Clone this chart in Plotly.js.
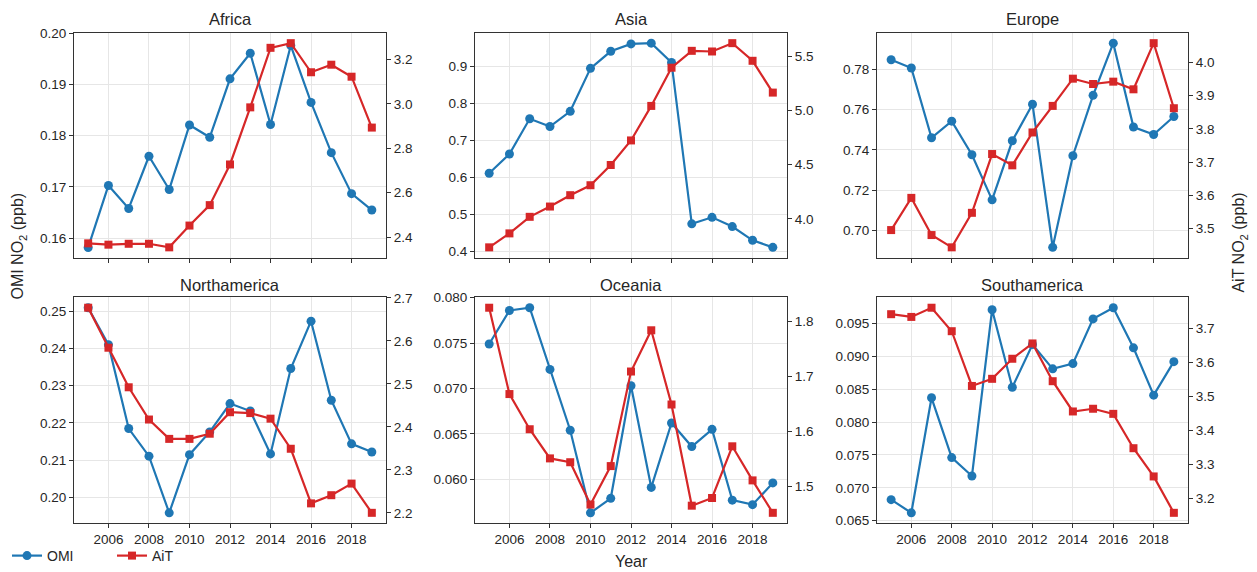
<!DOCTYPE html>
<html>
<head>
<meta charset="utf-8">
<script src="https://cdn.plot.ly/plotly-3.0.1.min.js"></script>
<style>
html,body{margin:0;padding:0;background:#fff;}
#chart{width:1257px;height:572px;}
</style>
</head>
<body>
<div id="chart"></div>
<script>
// ---------------- DATA ----------------
const years = [2005,2006,2007,2008,2009,2010,2011,2012,2013,2014,2015,2016,2017,2018,2019];
const regions = ['Africa','Asia','Europe','Northamerica','Oceania','Southamerica'];

const omiAfrica = [0.1582,0.1703,0.1658,0.1760,0.1695,0.1821,0.1797,0.1911,0.1961,0.1822,0.1976,0.1865,0.1767,0.1687,0.1655];
const aitAfrica = [2.372,2.366,2.370,2.370,2.354,2.452,2.544,2.727,2.984,3.252,3.273,3.142,3.176,3.122,2.893];

const omiAsia = [0.611,0.663,0.758,0.737,0.778,0.894,0.940,0.960,0.962,0.910,0.4745,0.492,0.467,0.430,0.411];
const aitAsia = [3.736,3.865,4.018,4.113,4.218,4.310,4.497,4.724,5.043,5.396,5.552,5.546,5.623,5.460,5.166];

const omiEurope = [0.7846,0.7805,0.7460,0.7542,0.7376,0.7153,0.7445,0.7626,0.6918,0.7371,0.7670,0.7928,0.7513,0.7476,0.7565];
const aitEurope = [3.495,3.592,3.480,3.443,3.547,3.724,3.690,3.789,3.869,3.951,3.935,3.942,3.919,4.058,3.862];

const omiNorthamerica = [0.2509,0.2410,0.2185,0.2111,0.1959,0.2115,0.2176,0.2252,0.2232,0.2117,0.2346,0.2473,0.2261,0.2144,0.2122];
const aitNorthamerica = [2.677,2.584,2.492,2.417,2.372,2.372,2.384,2.434,2.432,2.419,2.349,2.222,2.241,2.268,2.200];

const omiOceania = [0.0749,0.0786,0.0789,0.0721,0.0654,0.0563,0.0579,0.0703,0.0591,0.0662,0.0636,0.0655,0.0577,0.0572,0.0596];
const aitOceania = [1.825,1.668,1.604,1.551,1.544,1.467,1.537,1.709,1.784,1.649,1.465,1.479,1.573,1.511,1.452];

const omiSouthamerica = [0.0682,0.0662,0.0837,0.0746,0.0718,0.0971,0.0853,0.0918,0.0881,0.0889,0.0957,0.0974,0.0913,0.0841,0.0892];
const aitSouthamerica = [3.742,3.734,3.761,3.692,3.531,3.552,3.611,3.656,3.545,3.456,3.464,3.449,3.348,3.265,3.158];

const xTickLabels = ['2006','2008','2010','2012','2014','2016','2018'];

const leftTicksAfrica = ['0.16','0.17','0.18','0.19','0.20'];
const leftTicksAsia = ['0.4','0.5','0.6','0.7','0.8','0.9'];
const leftTicksEurope = ['0.70','0.72','0.74','0.76','0.78'];
const leftTicksNorthamerica = ['0.20','0.21','0.22','0.23','0.24','0.25'];
const leftTicksOceania = ['0.060','0.065','0.070','0.075','0.080'];
const leftTicksSouthamerica = ['0.065','0.070','0.075','0.080','0.085','0.090','0.095'];

const rightTicksAfrica = ['2.4','2.6','2.8','3.0','3.2'];
const rightTicksAsia = ['4.0','4.5','5.0','5.5'];
const rightTicksEurope = ['3.5','3.6','3.7','3.8','3.9','4.0'];
const rightTicksNorthamerica = ['2.2','2.3','2.4','2.5','2.6','2.7'];
const rightTicksOceania = ['1.5','1.6','1.7','1.8'];
const rightTicksSouthamerica = ['3.2','3.3','3.4','3.5','3.6','3.7'];

const omiSeries = [omiAfrica,omiAsia,omiEurope,omiNorthamerica,omiOceania,omiSouthamerica];
const aitSeries = [aitAfrica,aitAsia,aitEurope,aitNorthamerica,aitOceania,aitSouthamerica];
const leftTicks = [leftTicksAfrica,leftTicksAsia,leftTicksEurope,leftTicksNorthamerica,leftTicksOceania,leftTicksSouthamerica];
const rightTicks = [rightTicksAfrica,rightTicksAsia,rightTicksEurope,rightTicksNorthamerica,rightTicksOceania,rightTicksSouthamerica];

// ---------------- LAYOUT ----------------
const W = 1257, H = 572;
const colPx = [[74,386],[475,787],[877,1188]];
const rowPx = [[33,258],[298,524]];
const FONT = 'Liberation Sans, Arial, Helvetica, sans-serif';
const TXT = '#262626';
const BLUE = '#1f77b4', RED = '#d62728';
const SPINE = '#333333', GRID = '#e6e6e6';

function padRange(arr, padLo, padHi){
  const mn = Math.min(...arr), mx = Math.max(...arr);
  const p = (mx-mn)*0.05;
  return [mn-p*(padLo||1), mx+p*(padHi||1)];
}
// slightly wider top pad for Africa's OMI axis so its top tick (0.20) sits on the frame as in the reference
const leftPadHi = [1.25,1,1,1,1,1];

const traces = [];
const layout = {
  width: W, height: H,
  margin: {l:0,r:0,t:0,b:0},
  paper_bgcolor: '#ffffff',
  plot_bgcolor: '#ffffff',
  font: {family: FONT, size: 14, color: TXT},
  showlegend: true,
  legend: {
    orientation: 'h', x: 7/W, xanchor: 'left', y: 1-557/H, yanchor: 'middle',
    font: {family: FONT, size: 14, color: TXT},
    bgcolor: 'rgba(0,0,0,0)', entrywidth: 60, entrywidthmode: 'pixels',
    itemwidth: 30, tracegroupgap: 0
  },
  annotations: []
};

const xRange = padRange(years);

regions.forEach((name, i) => {
  const col = i % 3, row = Math.floor(i / 3);
  const xn = i + 1;
  const xid = 'x' + (xn === 1 ? '' : xn);
  const ylId = 'y' + (2*i+1 === 1 ? '' : 2*i+1);
  const yrId = 'y' + (2*i+2);
  const xKey = 'xaxis' + (xn === 1 ? '' : xn);
  const ylKey = 'yaxis' + (2*i+1 === 1 ? '' : 2*i+1);
  const yrKey = 'yaxis' + (2*i+2);

  const xd = [colPx[col][0]/W, colPx[col][1]/W];
  const yd = [1 - rowPx[row][1]/H, 1 - rowPx[row][0]/H];

  layout[xKey] = {
    domain: xd, anchor: ylId, range: xRange,
    tickmode: 'array', tickvals: xTickLabels.map(Number), ticktext: xTickLabels,
    showticklabels: row === 1,
    ticks: 'outside', ticklen: 4, tickwidth: 1, tickcolor: SPINE,
    showline: true, linecolor: SPINE, linewidth: 1, mirror: true,
    showgrid: true, gridcolor: GRID, gridwidth: 1, zeroline: false,
    tickfont: {family: FONT, size: 13.5, color: TXT}
  };
  layout[ylKey] = {
    domain: yd, anchor: xid, range: padRange(omiSeries[i], 1, leftPadHi[i]),
    tickmode: 'array', tickvals: leftTicks[i].map(Number), ticktext: leftTicks[i],
    ticks: 'outside', ticklen: 4, tickwidth: 1, tickcolor: SPINE,
    showline: true, linecolor: SPINE, linewidth: 1,
    showgrid: true, gridcolor: GRID, gridwidth: 1, zeroline: false,
    tickfont: {family: FONT, size: 13.5, color: TXT}
  };
  layout[yrKey] = {
    overlaying: ylId, side: 'right', anchor: xid, range: padRange(aitSeries[i]),
    tickmode: 'array', tickvals: rightTicks[i].map(Number), ticktext: rightTicks[i],
    ticks: 'outside', ticklen: 4, tickwidth: 1, tickcolor: SPINE,
    showline: true, linecolor: SPINE, linewidth: 1,
    showgrid: false, zeroline: false,
    tickfont: {family: FONT, size: 13.5, color: TXT}
  };

  traces.push({
    type: 'scatter', mode: 'lines+markers', x: years, y: omiSeries[i],
    xaxis: xid, yaxis: ylId, name: 'OMI', legendgroup: 'OMI', showlegend: i === 0,
    line: {color: BLUE, width: 2.2},
    marker: {symbol: 'circle', size: 9, color: BLUE},
    cliponaxis: false
  });
  traces.push({
    type: 'scatter', mode: 'lines+markers', x: years, y: aitSeries[i],
    xaxis: xid, yaxis: yrId, name: 'AiT', legendgroup: 'AiT', showlegend: i === 0,
    line: {color: RED, width: 2.2},
    marker: {symbol: 'square', size: 8, color: RED},
    cliponaxis: false
  });

  layout.annotations.push({
    text: name, xref: 'paper', yref: 'paper',
    x: (colPx[col][0]+colPx[col][1])/2/W, y: 1 - (row === 0 ? 19 : 285)/H,
    xanchor: 'center', yanchor: 'middle', showarrow: false,
    font: {family: FONT, size: 16.5, color: TXT}
  });
});

layout.annotations.push({
  text: 'OMI NO<sub>2</sub> (ppb)', xref: 'paper', yref: 'paper',
  x: 19/W, y: 1 - 247/H, xanchor: 'center', yanchor: 'middle',
  textangle: -90, showarrow: false, font: {family: FONT, size: 16, color: TXT}
});
layout.annotations.push({
  text: 'AiT NO<sub>2</sub> (ppb)', xref: 'paper', yref: 'paper',
  x: 1240/W, y: 1 - 243/H, xanchor: 'center', yanchor: 'middle',
  textangle: -90, showarrow: false, font: {family: FONT, size: 16, color: TXT}
});
layout.annotations.push({
  text: 'Year', xref: 'paper', yref: 'paper',
  x: 631/W, y: 1 - 562/H, xanchor: 'center', yanchor: 'middle',
  showarrow: false, font: {family: FONT, size: 16, color: TXT}
});

Plotly.newPlot('chart', traces, layout, {displayModeBar: false, staticPlot: true});
</script>
</body>
</html>
